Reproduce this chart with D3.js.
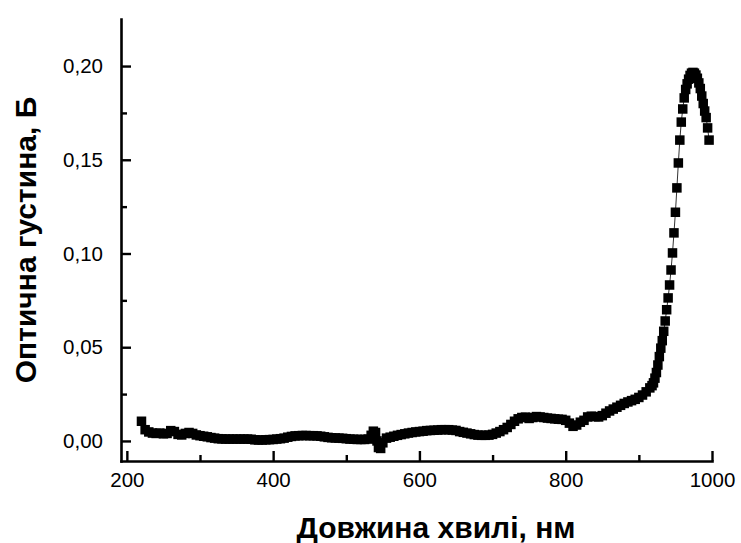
<!DOCTYPE html>
<html>
<head>
<meta charset="utf-8">
<script src="https://cdn.jsdelivr.net/npm/d3@7"></script>
<style>
  html, body { margin: 0; padding: 0; background: #fff; }
  svg { display: block; }
  .tick text { font-family: "Liberation Sans", Arial, sans-serif; font-size: 20.5px; fill: #000; }
  .axis-title { font-family: "Liberation Sans", Arial, sans-serif; font-size: 30px; font-weight: bold; fill: #000; }
</style>
</head>
<body>
<svg id="chart" width="741" height="543"></svg>
<script>
// Wavelength samples (nm) and optical density
const wavelengthsFlat = [
  220, 225, 230, 235, 240, 245, 250, 255, 260, 265, 270, 275, 280, 285, 290, 295,
  300, 305, 310, 315, 320, 325, 330, 335, 340, 345, 350, 355, 360, 365, 370, 375,
  380, 385, 390, 395, 400, 405, 410, 415, 420, 425, 430, 435, 440, 445, 450, 455,
  460, 465, 470, 475, 480, 485, 490, 495, 500, 505, 510, 515, 520, 525, 530, 534,
  537, 540, 542, 544, 547, 550, 555, 560, 565, 570, 575, 580, 585, 590, 595, 600,
  605, 610, 615, 620, 625, 630, 635, 640, 645, 650, 655, 660, 665, 670, 675, 680,
  685, 690, 695, 700, 705, 710, 715, 720, 725, 730, 735, 740, 745, 750, 755, 760,
  765, 770, 775, 780, 785, 790, 795, 800, 805, 810, 815, 820, 825, 830, 835, 840,
  845, 850, 855, 860, 865, 870, 875, 880, 885, 890, 895, 900, 905, 910, 915
];
const densityFlat = [
  0.0105, 0.0060, 0.0048, 0.0042, 0.0040, 0.0042, 0.0038, 0.0040, 0.0055, 0.0050, 0.0035, 0.0032, 0.0040, 0.0045, 0.0040, 0.0032,
  0.0028, 0.0025, 0.0022, 0.0018, 0.0015, 0.0012, 0.0011, 0.0010, 0.0010, 0.0010, 0.0010, 0.0010, 0.0010, 0.0010, 0.0009, 0.0006,
  0.0005, 0.0005, 0.0006, 0.0007, 0.0008, 0.0010, 0.0012, 0.0015, 0.0020, 0.0024, 0.0027, 0.0028, 0.0029, 0.0029, 0.0028, 0.0028,
  0.0027, 0.0025, 0.0022, 0.0019, 0.0017, 0.0016, 0.0015, 0.0014, 0.0012, 0.0010, 0.0009, 0.0008, 0.0008, 0.0008, 0.0010, 0.0030,
  0.0052, 0.0045, 0.0000, -0.0035, -0.0040, -0.0010, 0.0015, 0.0020, 0.0025, 0.0030, 0.0034, 0.0038, 0.0042, 0.0045, 0.0048, 0.0050,
  0.0052, 0.0055, 0.0056, 0.0057, 0.0058, 0.0060, 0.0060, 0.0060, 0.0058, 0.0056, 0.0050, 0.0046, 0.0042, 0.0038, 0.0034, 0.0031,
  0.0030, 0.0030, 0.0031, 0.0035, 0.0042, 0.0050, 0.0060, 0.0072, 0.0088, 0.0105, 0.0118, 0.0125, 0.0127, 0.0120, 0.0125, 0.0130,
  0.0128, 0.0125, 0.0122, 0.0120, 0.0118, 0.0116, 0.0115, 0.0110, 0.0095, 0.0078, 0.0085, 0.0100, 0.0110, 0.0128, 0.0132, 0.0130,
  0.0128, 0.0135, 0.0148, 0.0160, 0.0170, 0.0180, 0.0190, 0.0200, 0.0208, 0.0215, 0.0222, 0.0232, 0.0245, 0.0262, 0.0283
];
const wavelengthsPeak = [
  918, 920, 922, 924, 926, 928, 930, 932, 934, 936, 938, 940, 942, 944, 946, 948,
  950, 952, 954, 956, 958, 960, 962, 964, 966, 968, 970, 972, 974, 976, 978, 980,
  982, 984, 986, 988, 990, 992, 994, 996
];
const densityPeak = [
  0.0295, 0.0310, 0.0335, 0.0365, 0.0405, 0.0450, 0.0495, 0.0535, 0.0585, 0.0640, 0.0700, 0.0763, 0.0832, 0.0912, 0.1003, 0.1110,
  0.1220, 0.1350, 0.1483, 0.1605, 0.1701, 0.1771, 0.1830, 0.1875, 0.1905, 0.1930, 0.1950, 0.1962, 0.1966, 0.1962, 0.1952, 0.1935,
  0.1910, 0.1880, 0.1840, 0.1800, 0.1760, 0.1725, 0.1670, 0.1605
];

const xMajorTicks = [200, 400, 600, 800, 1000];
const xMinorTicks = [300, 500, 700, 900];
const yMajorTicks = [0, 0.05, 0.10, 0.15, 0.20];
const yMinorTicks = [0.025, 0.075, 0.125, 0.175];

const xTitle = "Довжина хвилі, нм";
const yTitle = "Оптична густина, Б";

const MARKER = 9.5;

const svg = d3.select("#chart");

const x = d3.scaleLinear().domain([192, 1000]).range([121, 712]);
const y = d3.scaleLinear().domain([-0.0107, 0.2251]).range([461, 19]);

const points = wavelengthsFlat.map((w, i) => [w, densityFlat[i]])
  .concat(wavelengthsPeak.map((w, i) => [w, densityPeak[i]]));

const yBase = y.range()[0];
const xBase = x.range()[0];
const commaFmt = d => d3.format(".2f")(d).replace(".", ",");

// connecting line
svg.append("path")
  .datum(points)
  .attr("fill", "none")
  .attr("stroke", "#333")
  .attr("stroke-width", 1)
  .attr("d", d3.line().x(d => x(d[0])).y(d => y(d[1])));

// square markers
svg.append("g")
  .selectAll("rect")
  .data(points)
  .enter()
  .append("rect")
  .attr("x", d => x(d[0]) - MARKER / 2)
  .attr("y", d => y(d[1]) - MARKER / 2)
  .attr("width", MARKER)
  .attr("height", MARKER)
  .attr("fill", "#000");

const styleAxis = g => {
  g.select(".domain").attr("stroke", "#000").attr("stroke-width", 2.6).attr("stroke-linecap", "square");
  g.selectAll(".tick line").attr("stroke", "#000").attr("stroke-width", 2.4);
};

// x axis (ticks point inward)
svg.append("g")
  .attr("transform", `translate(0,${yBase})`)
  .call(d3.axisBottom(x).tickValues(xMajorTicks).tickSizeInner(-10).tickSizeOuter(0).tickPadding(9).tickFormat(d3.format("d")))
  .call(styleAxis)
  .call(g => g.selectAll(".tick text").attr("dy", "0.85em"));

svg.append("g")
  .attr("transform", `translate(0,${yBase})`)
  .call(d3.axisBottom(x).tickValues(xMinorTicks).tickSizeInner(-6).tickSizeOuter(0).tickFormat(""))
  .call(styleAxis)
  .call(g => g.select(".domain").remove());

// y axis
svg.append("g")
  .attr("transform", `translate(${xBase},0)`)
  .call(d3.axisLeft(y).tickValues(yMajorTicks).tickSizeInner(-10).tickSizeOuter(0).tickPadding(18).tickFormat(commaFmt))
  .call(styleAxis);

svg.append("g")
  .attr("transform", `translate(${xBase},0)`)
  .call(d3.axisLeft(y).tickValues(yMinorTicks).tickSizeInner(-6).tickSizeOuter(0).tickFormat(""))
  .call(styleAxis)
  .call(g => g.select(".domain").remove());

svg.selectAll(".tick text").attr("fill", "#000");

// axis titles
svg.append("text")
  .attr("class", "axis-title")
  .attr("x", 436)
  .attr("y", 538)
  .attr("text-anchor", "middle")
  .text(xTitle);

svg.append("text")
  .attr("class", "axis-title")
  .attr("transform", "translate(36,240) rotate(-90)")
  .attr("text-anchor", "middle")
  .text(yTitle);
</script>
</body>
</html>
